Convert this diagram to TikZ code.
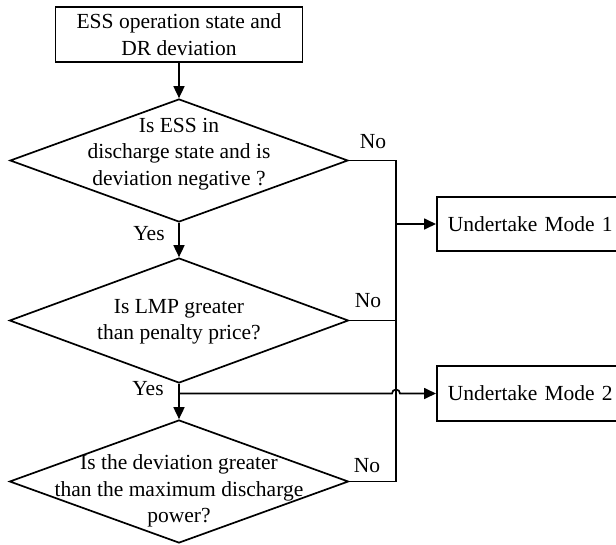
\documentclass[tikz,border=0pt]{standalone}
\usepackage{fontspec}
\setmainfont{Liberation Serif}
\usetikzlibrary{shapes.geometric,arrows.meta}
\begin{document}
\begin{tikzpicture}[x=1pt,y=-1pt,
  every node/.style={font=\fontsize{21.5}{26.5}\selectfont},
  line/.style={line width=1.7pt},
  arr/.style={line, -{Triangle[length=12pt,width=11pt]}},
  box/.style={draw, line width=1.7pt, inner sep=0pt, align=center},
  dia/.style={draw, diamond, line width=1.7pt, inner sep=0pt},
  txt/.style={align=center, inner sep=0pt},
  lab/.style={anchor=base, inner sep=0pt},
  modebox/.style={draw, line width=1.7pt, anchor=west, inner xsep=11pt, inner ysep=0pt, text width=170pt, align=left}
]
\useasboundingbox (0,0) rectangle (616,544);
\fill[white] (0,0) rectangle (616,544);

% top box
\node[box, minimum width=247pt, minimum height=55pt] (top) at (179,34.5) {ESS operation state and\\DR deviation};

% diamonds
\node[dia, minimum width=338pt, minimum height=123pt] (d1) at (179,160.5) {};
\node[txt] (t1) at (179,154) {Is ESS in\\discharge state and is\\deviation negative ?};
\node[dia, minimum width=339pt, minimum height=125pt] (d2) at (179,320.5) {};
\node[txt] (t2) at (179,322) {Is LMP greater\\than penalty price?};
\node[dia, minimum width=339pt, minimum height=123pt] (d3) at (179,481.5) {};
\node[txt] (t3) at (179,491) {Is the deviation greater\\than the maximum discharge\\power?};

% mode boxes
\node[modebox, minimum height=54pt] (m1) at (436,224) {Undertake Mode 1};
\node[modebox, minimum height=55pt] (m2) at (436,393.5) {Undertake Mode 2};

% bus
\coordinate (bx) at (396,0);

% connectors
\draw[arr] (top.south) -- (d1.north);
\draw[arr] (d1.south) -- (d2.north);
\draw[arr] (d2.south) -- (d3.north);
\draw[line] (d1.east) -| (bx |- d3.east) -- (d3.east);
\draw[line] (d2.east) -- (bx |- d2.east);
\draw[arr] (bx |- m1.west) -- (m1.west);
\coordinate (h0) at (d2.south |- m2.west);
\coordinate (h1) at ([xshift=-4pt]bx |- m2.west);
\draw[arr] (h0) -- (h1) arc[start angle=180,end angle=0,radius=4pt] -- (m2.west);

% labels
\node[lab] (no1) at (373,148) {No};
\node[lab] (no2) at (368,307) {No};
\node[lab] (no3) at (367,472) {No};
\node[lab] (yes1) at (149,240) {Yes};
\node[lab] (yes2) at (148,395) {Yes};
\end{tikzpicture}
\end{document}
